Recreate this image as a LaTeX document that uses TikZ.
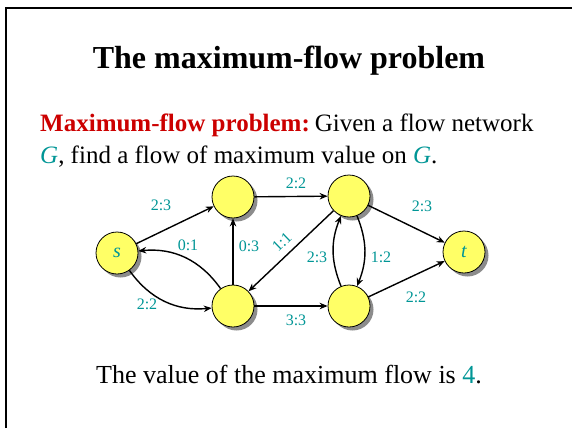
\documentclass[tikz,border=0pt]{standalone}
\usepackage{fontspec}
\setmainfont{Liberation Serif}
\usetikzlibrary{arrows.meta,shadows}
\definecolor{tealc}{RGB}{0,150,150}
\definecolor{nodey}{RGB}{255,255,102}
\definecolor{redt}{RGB}{204,0,0}
\begin{document}
\begin{tikzpicture}[x=1pt,y=-1pt,
  vertex/.style={circle,draw=black,line width=0.8pt,fill=nodey,minimum size=42pt,inner sep=0pt,
    drop shadow={shadow xshift=3.5pt,shadow yshift=-3.5pt,fill=black!45,opacity=1}},
  e/.style={line width=1.4pt,-{Stealth[length=8pt,width=6.5pt]}},
  lab/.style={font=\fontsize{16}{19}\selectfont,text=tealc,inner sep=0pt}]
\useasboundingbox (0,0) rectangle (572,428);
\fill[white] (0,0) rectangle (572,428);
\draw[line width=2.5pt] (6,428) -- (6,8) -- (572,8);

\node[anchor=base] (title) at (289,68) {\fontsize{32}{38}\selectfont\bfseries The maximum-flow problem};
\node[anchor=base west,inner sep=0pt] (line1) at (40,131) {\fontsize{25}{30}\selectfont\textcolor{redt}{\bfseries Maximum-flow problem:}\hspace{0.2em}Given a flow network};
\node[anchor=base west,inner sep=0pt] (line2) at (40,163) {\fontsize{25}{30}\selectfont\textcolor{tealc}{\itshape G}, find a flow of maximum value on \textcolor{tealc}{\itshape G}.};
\node[anchor=base] (bottom) at (289,383) {\fontsize{26}{31}\selectfont The value of the maximum flow is \textcolor{tealc}{4}.};

\node[vertex] (s) at (117,253) {\textcolor{tealc}{\fontsize{20}{24}\selectfont\itshape s}};
\node[vertex] (a) at (233,197) {};
\node[vertex] (b) at (233,306) {};
\node[vertex] (c) at (349,196) {};
\node[vertex] (d) at (349,306) {};
\node[vertex] (t) at (464,252) {\textcolor{tealc}{\fontsize{20}{24}\selectfont\itshape t}};

\draw[e] (s) -- (a);
\draw[e] (s) to[bend right=30] (b);
\draw[e] (b) to[bend right=30] (s);
\draw[e] (b) -- (a);
\draw[e] (a) -- (c);
\draw[e] (c) -- (b);
\draw[e] (b) -- (d);
\draw[e] (c) -- (t);
\draw[e] (d) -- (t);
\draw[e] (d) to[bend left=22] (c);
\draw[e] (c) to[bend left=22] (d);

\node[lab] (l1) at (161,205) {2:3};
\node[lab] (l2) at (188,245) {0:1};
\node[lab] (l3) at (249,246) {0:3};
\node[lab] (l4) at (147,304) {2:2};
\node[lab] (l5) at (296,183) {2:2};
\node[lab] (l6) at (296,320) {3:3};
\node[lab,rotate=44] (l7) at (282,242) {1:1};
\node[lab] (l8) at (317,257) {2:3};
\node[lab] (l9) at (381,257) {1:2};
\node[lab] (l10) at (422,206) {2:3};
\node[lab] (l11) at (416,297) {2:2};
\end{tikzpicture}
\end{document}
